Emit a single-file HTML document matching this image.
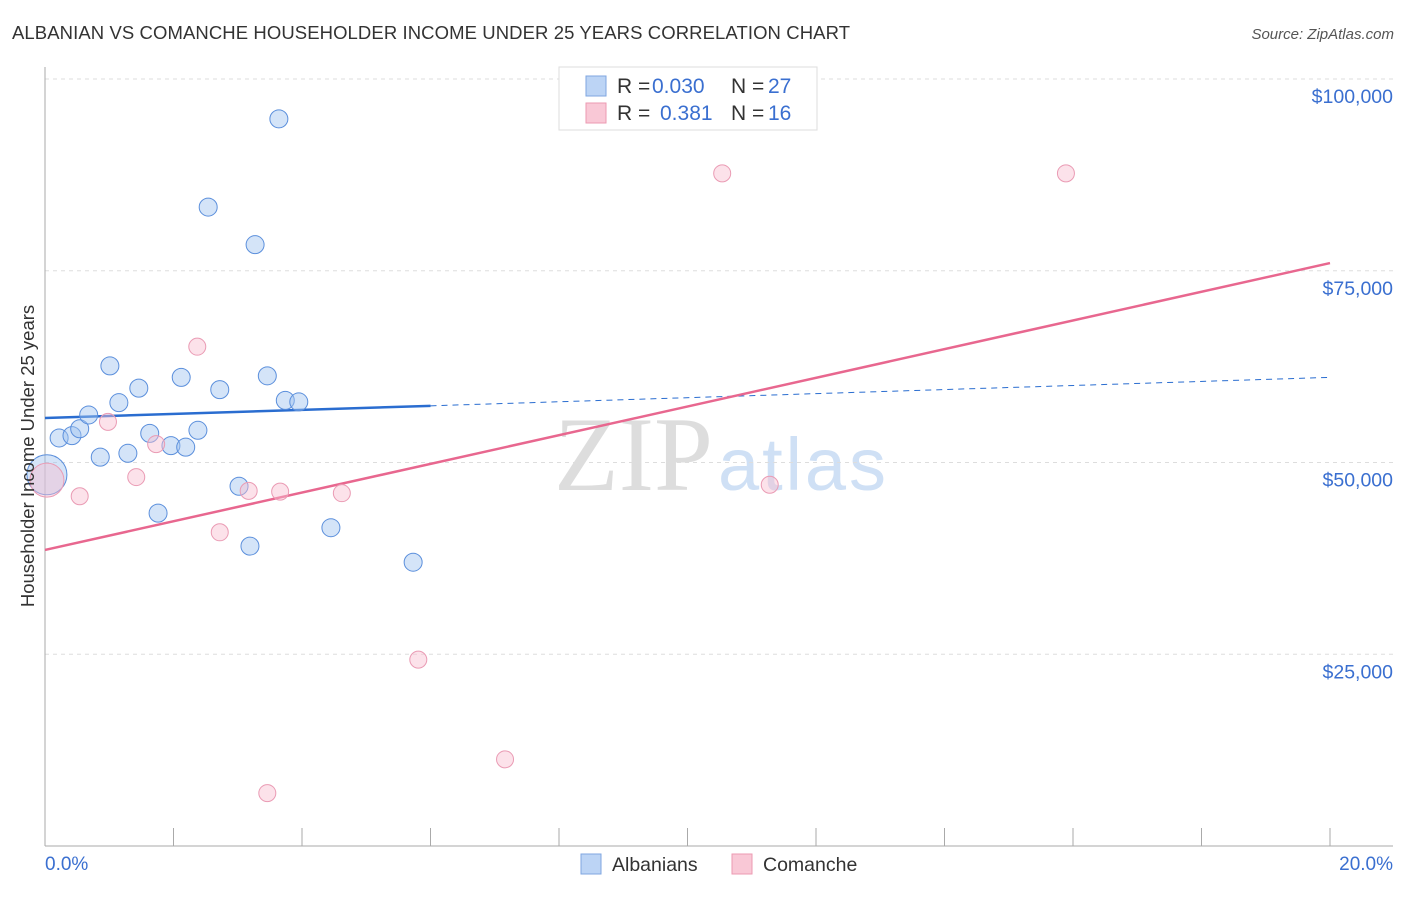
<!DOCTYPE html>
<html><head><meta charset="utf-8"><style>
body{margin:0;background:#fff;font-family:"Liberation Sans",sans-serif}
</style></head><body>
<svg id="chart" width="1406" height="892" viewBox="0 0 1406 892" xmlns="http://www.w3.org/2000/svg">
<text x="12" y="39" font-size="18.5" fill="#333" textLength="838">ALBANIAN VS COMANCHE HOUSEHOLDER INCOME UNDER 25 YEARS CORRELATION CHART</text>
<text x="1394" y="39" font-size="15" fill="#555" font-style="italic" text-anchor="end">Source: ZipAtlas.com</text>
<text x="713" y="490" font-size="106" fill="#ddd" font-family="Liberation Serif,serif" text-anchor="end">ZIP</text>
<text x="718" y="490" font-size="74" fill="#cfe0f5" textLength="168">atlas</text>
<g id="grid"></g>
<g id="axes"></g>
<g id="lines"></g>
<g id="points"></g>
<text transform="translate(34,456) rotate(-90)" font-size="18.5" fill="#333" text-anchor="middle">Householder Income Under 25 years</text>
<text x="45" y="870" font-size="19" fill="#3a6fd0">0.0%</text>
<text x="1393" y="870" font-size="19" fill="#3a6fd0" text-anchor="end">20.0%</text>
<g>
<rect x="559" y="67" width="258" height="63" fill="#fff" stroke="#ddd"/>
<rect x="586" y="76" width="20" height="20" fill="#bcd4f5" stroke="#7fa6e0"/>
<rect x="586" y="103" width="20" height="20" fill="#f9c8d6" stroke="#ec9ab2"/>
<text x="617" y="93" font-size="21" fill="#333">R = <tspan x="652" fill="#3a6fd0">0.030</tspan><tspan x="731">N = </tspan><tspan x="768" fill="#3a6fd0">27</tspan></text>
<text x="617" y="120" font-size="21" fill="#333">R = <tspan x="660" fill="#3a6fd0">0.381</tspan><tspan x="731">N = </tspan><tspan x="768" fill="#3a6fd0">16</tspan></text>
</g>
<g>
<rect x="581" y="854" width="20" height="20" fill="#bcd4f5" stroke="#7fa6e0"/>
<text x="612" y="871" font-size="19.5" fill="#333">Albanians</text>
<rect x="732" y="854" width="20" height="20" fill="#f9c8d6" stroke="#ec9ab2"/>
<text x="763" y="871" font-size="19.5" fill="#333">Comanche</text>
</g>
</svg>
<script>
const yTicks=[25000,50000,75000,100000];
const yTickLabels=["$25,000","$50,000","$75,000","$100,000"];
const xTicks=[0,2,4,6,8,10,12,14,16,18,20];
const albX=[0.03,0.22,0.42,0.54,0.68,0.86,1.01,1.15,1.29,1.46,1.63,1.76,1.96,2.12,2.19,2.38,2.54,2.72,3.02,3.19,3.27,3.46,3.64,3.74,3.95,4.45,5.73];
const albY=[48400,53200,53500,54400,56200,50700,62600,57800,51200,59700,53800,43400,52200,61100,52000,54200,83300,59500,46900,39100,78400,61300,94800,58100,57900,41500,37000];
const comX=[0.03,0.54,0.98,1.42,1.73,2.37,2.72,3.17,3.46,3.66,4.62,5.81,7.16,10.54,11.28,15.89];
const comY=[47700,45600,55300,48100,52400,65100,40900,46300,6900,46200,46000,24300,11300,87700,47100,87700];
const albLine=[55800,61100];
const comLine=[38600,76000];
const NS="http://www.w3.org/2000/svg";
const xs=v=>45+v/20*1285;
const ys=v=>846-v/100000*767;
function mk(tag,attrs,parent){const e=document.createElementNS(NS,tag);for(const k in attrs)e.setAttribute(k,attrs[k]);document.getElementById(parent).appendChild(e);return e;}
yTicks.forEach((t,i)=>{
 const g=mk('line',{x1:45,x2:1393,y1:ys(t),y2:ys(t),stroke:'#ddd','stroke-dasharray':'4,4'},'grid');
 
 
 const l=mk('text',{x:1393,y:ys(t)+24,'font-size':19.5,fill:'#3a6fd0','text-anchor':'end'},'grid');
 l.textContent=yTickLabels[i];
 
 
});
const ax=mk('line',{x1:45,x2:1393,y1:846,y2:846,stroke:'#aaa'},'axes');


const ay=mk('line',{x1:45,x2:45,y1:67,y2:846,stroke:'#aaa'},'axes');


xTicks.forEach(t=>{
 const k=mk('line',{x1:xs(t),x2:xs(t),y1:828,y2:846,stroke:'#aaa'},'axes');
 
 
});
const yb=x=>albLine[0]+(albLine[1]-albLine[0])*x/20;
const l1=mk('line',{x1:xs(0),y1:ys(yb(0)),x2:xs(6),y2:ys(yb(6)),stroke:'#2a6dd0','stroke-width':2.5},'lines');


const l2=mk('line',{x1:xs(6),y1:ys(yb(6)),x2:xs(20),y2:ys(yb(20)),stroke:'#2a6dd0','stroke-width':1,'stroke-dasharray':'6,5'},'lines');


const l3=mk('line',{x1:xs(0),y1:ys(comLine[0]),x2:xs(20),y2:ys(comLine[1]),stroke:'#e8678f','stroke-width':2.5},'lines');


albX.forEach((x,i)=>{
 const c=mk('circle',{cx:xs(x),cy:ys(albY[i]),r:i==0?20:9,fill:'rgba(160,196,240,0.45)',stroke:'#5b8fdc','stroke-width':1},'points');
 
 
});
comX.forEach((x,i)=>{
 const c=mk('circle',{cx:xs(x),cy:ys(comY[i]),r:i==0?17:8.5,fill:'rgba(248,190,208,0.45)',stroke:'#ea9bb4','stroke-width':1},'points');
 
 
});
</script>
</body></html>
